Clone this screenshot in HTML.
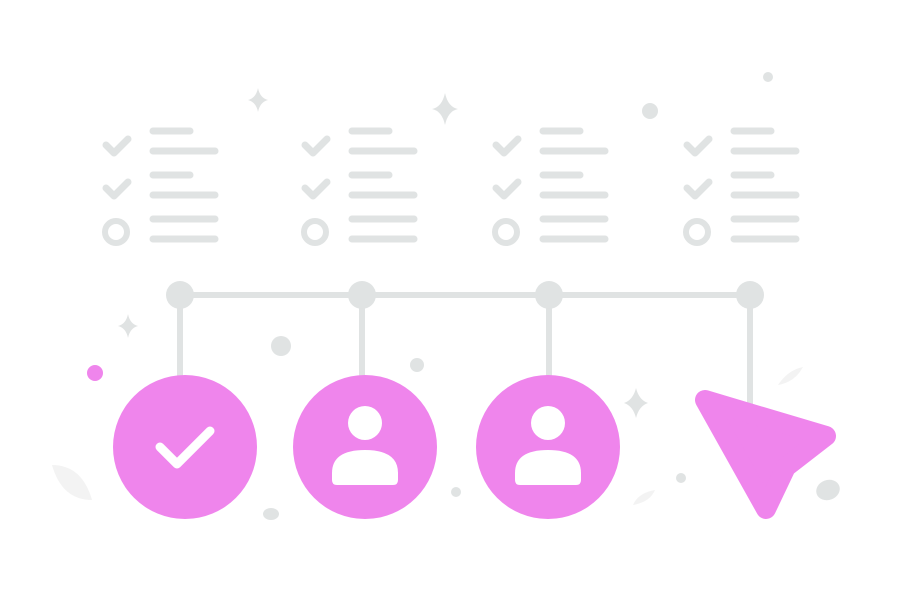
<!DOCTYPE html>
<html><head><style>body{margin:0;background:#fff}</style></head><body>
<svg width="900" height="600" viewBox="0 0 900 600" xmlns="http://www.w3.org/2000/svg">
<defs>
<g id="list" fill="none" stroke="#e0e3e3" stroke-linecap="round">
<path d="M106 145 l8 8 l14 -14" stroke-width="7" stroke-linejoin="round"/>
<path d="M106 188 l8 8 l14 -14" stroke-width="7" stroke-linejoin="round"/>
<circle cx="116" cy="232" r="11" stroke-width="6"/>
<g stroke-width="7">
<line x1="153" y1="131" x2="190" y2="131"/>
<line x1="153" y1="151" x2="215" y2="151"/>
<line x1="153" y1="175" x2="190" y2="175"/>
<line x1="153" y1="195" x2="215" y2="195"/>
<line x1="153" y1="219" x2="215" y2="219"/>
<line x1="153" y1="239" x2="215" y2="239"/>
</g></g>
</defs>
<use href="#list"/>
<use href="#list" x="199"/>
<use href="#list" x="390"/>
<use href="#list" x="581"/>
<g fill="#e0e3e3">
<path d="M258 88 q2 10 10 12 q-8 2 -10 12 q-2 -10 -10 -12 q8 -2 10 -12z"/>
<path d="M445 93 q3 14 13 16 q-10 2 -13 16 q-3 -14 -13 -16 q10 -2 13 -16z"/>
<path d="M128 314 q2 10 10 12 q-8 2 -10 12 q-2 -10 -10 -12 q8 -2 10 -12z"/>
<path d="M636 388 q3 12 12 15 q-9 3 -12 15 q-3 -12 -12 -15 q9 -3 12 -15z"/>
<circle cx="650" cy="111" r="8"/><circle cx="768" cy="77" r="5"/>
<circle cx="281" cy="346" r="10"/><circle cx="417" cy="365" r="7"/>
<circle cx="456" cy="492" r="5"/><circle cx="681" cy="478" r="5"/>
<ellipse cx="271" cy="514" rx="8" ry="6"/>
<ellipse cx="828" cy="490" rx="12" ry="10" transform="rotate(-20 828 490)"/>
</g>
<g fill="#f3f3f3">
<path d="M52 465 q30 0 40 35 q-30 0 -40 -35z"/>
<path d="M778 385 q10 -15 25 -18 q-8 15 -25 18z"/>
<path d="M633 505 q5 -12 22 -15 q-5 12 -22 15z"/>
</g>
<circle cx="95" cy="373" r="8" fill="#ef85ec"/>
<g stroke="#e0e3e3" stroke-width="6">
<line x1="180" y1="295" x2="750" y2="295"/>
<line x1="180" y1="295" x2="180" y2="380"/>
<line x1="362" y1="295" x2="362" y2="380"/>
<line x1="549" y1="295" x2="549" y2="380"/>
<line x1="750" y1="295" x2="750" y2="410"/>
</g>
<g fill="#e0e3e3">
<circle cx="180" cy="295" r="14"/><circle cx="362" cy="295" r="14"/>
<circle cx="549" cy="295" r="14"/><circle cx="750" cy="295" r="14"/>
</g>
<g fill="#ef85ec">
<circle cx="185" cy="447" r="72"/><circle cx="365" cy="447" r="72"/><circle cx="548" cy="447" r="72"/>
<path d="M705 400 L826 436 L786 467 L766 509 Z" stroke="#ef85ec" stroke-width="20" stroke-linejoin="round"/>
</g>
<path d="M160 447 l17 17 l33 -33" fill="none" stroke="#fff" stroke-width="9" stroke-linecap="round" stroke-linejoin="round"/>
<g fill="#fff">
<circle cx="365" cy="423" r="17"/>
<path d="M332 480 v-7 q0 -23 33 -23 q33 0 33 23 v7 q0 5 -5 5 h-56 q-5 0 -5 -5z" />
<circle cx="548" cy="423" r="17"/>
<path d="M515 480 v-7 q0 -23 33 -23 q33 0 33 23 v7 q0 5 -5 5 h-56 q-5 0 -5 -5z" />
</g>
</svg>
</body></html>
